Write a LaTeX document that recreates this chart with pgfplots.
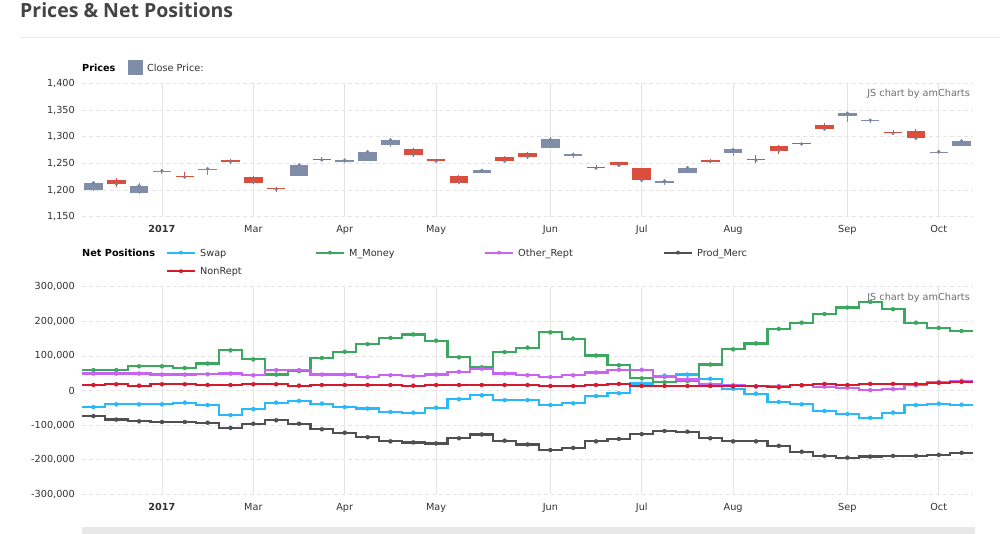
\documentclass[border=0pt]{standalone}
\usepackage{pgfplots}
\pgfplotsset{compat=1.18}
\usepackage{pgfplotstable}
\usepackage{fontspec}
\setmainfont{DejaVu Sans}
\newfontfamily\titlefont{Open Sans}
\definecolor{upc}{RGB}{127,141,169}
\definecolor{downc}{RGB}{219,77,60}
\definecolor{dotc}{RGB}{120,132,160}
\definecolor{swapc}{RGB}{40,185,250}
\definecolor{mmc}{RGB}{60,168,95}
\definecolor{othc}{RGB}{200,100,240}
\definecolor{prodc}{RGB}{80,80,80}
\definecolor{nonc}{RGB}{215,25,45}
\definecolor{gridc}{RGB}{228,228,228}
\definecolor{labc}{RGB}{50,50,50}
\definecolor{wmc}{RGB}{110,110,110}
\definecolor{titc}{RGB}{68,68,68}
\definecolor{sepc}{RGB}{235,235,235}
\definecolor{scrc}{RGB}{232,232,232}
\newcommand\sm{\fontsize{9.7bp}{11bp}\selectfont}

\pgfplotstableread{
x o c h l
0 1200 1214 1217 1199
2 1194 1208 1214 1192
3 1234 1236 1239 1230
5 1237 1240 1243 1228
9 1226 1247 1250 1226
11 1252 1256 1259 1251
12 1254 1272 1275 1254
13 1284 1294 1297 1280
17 1231 1237 1239 1231
20 1279 1295 1299 1279
21 1264 1267 1270 1260
25 1214 1217 1220 1210
26 1232 1242 1245 1232
28 1269 1276 1278 1263
33 1339 1344 1347 1328
34 1329 1331 1334 1325
37 1269 1272 1275 1268
38 1282 1292 1295 1282
}\upcandles

\pgfplotstableread{
x o c h l
1 1219 1211 1222 1206
4 1227 1224 1233 1222
6 1256 1253 1259 1248
7 1225 1214 1226 1213
8 1204 1201 1206 1197
10 1259 1256 1261 1254
14 1276 1266 1278 1261
15 1258 1254 1259 1252
16 1227 1214 1228 1213
18 1261 1254 1263 1252
19 1269 1262 1272 1258
22 1244 1241 1246 1239
23 1252 1246 1253 1245
24 1242 1218 1242 1218
27 1257 1253 1258 1251
29 1259 1256 1265 1250
30 1282 1274 1284 1268
31 1289 1286 1290 1285
32 1321 1314 1325 1313
35 1309 1306 1312 1305
36 1311 1297 1314 1293
}\downcandles

\pgfplotstableread{
x swap mm other prod nonrep
-0.5 -48000 59000 49000 -74000 16000
0 -48000 59000 49000 -74000 16000
1 -40000 59000 49000 -84000 18000
2 -40000 70000 49000 -89000 14000
3 -40000 70000 46000 -91000 18000
4 -35000 65000 46000 -91000 18000
5 -42000 78000 47000 -93000 16000
6 -71000 116000 49000 -108000 16000
7 -54000 90000 44000 -96000 18000
8 -35000 46000 59000 -86000 18000
9 -30000 56000 59000 -96000 14000
10 -38000 94000 46000 -112000 16000
11 -48000 112000 46000 -122000 16000
12 -52000 134000 39000 -135000 16000
13 -62000 152000 44000 -147000 16000
14 -64000 162000 41000 -150000 14000
15 -50000 144000 46000 -153000 16000
16 -25000 96000 54000 -138000 16000
17 -14000 67000 63000 -127000 16000
18 -28000 111000 49000 -145000 16000
19 -28000 124000 44000 -156000 16000
20 -42000 168000 39000 -172000 13000
21 -37000 150000 44000 -166000 13000
22 -16000 101000 52000 -147000 16000
23 -8000 73000 60000 -140000 19000
24 20000 35000 60000 -126000 13000
25 43000 24000 39000 -117000 13000
26 46000 27000 32000 -119000 13000
27 34000 75000 18000 -138000 13000
28 5000 119000 15000 -147000 12000
29 -9000 136000 12000 -147000 12000
30 -33000 178000 13000 -160000 9000
31 -40000 196000 15000 -177000 15000
32 -59000 221000 11000 -189000 19000
33 -68000 240000 8000 -194000 16000
34 -79000 256000 1000 -191000 19000
35 -64000 235000 4000 -189000 19000
36 -42000 196000 15000 -189000 19000
37 -38000 181000 25000 -186000 22000
38 -41000 172000 28000 -180000 25000
38.5 -41000 172000 28000 -180000 25000
}\net

\pgfplotsset{amstyle/.style={
  scale only axis, enlargelimits=false, xmin=-0.5, xmax=38.5, width=891bp,
  axis line style={draw=none}, major tick length=0pt,
  xmajorgrids, ymajorgrids,
  x grid style={color=gridc, line width=0.8bp},
  y grid style={color=gridc, dash pattern=on 4bp off 3bp, line width=0.8bp},
  xtick={3,7,11,15,20,24,28,33,37},
  xticklabels={\textbf{2017},Mar,Apr,May,Jun,Jul,Aug,Sep,Oct},
  tick label style={font=\sm, text=labc},
  xticklabel style={anchor=base, inner sep=0pt, yshift=-16bp},
  yticklabel style={anchor=east, inner sep=0pt, xshift=-7bp},
  scaled ticks=false,
}}

\begin{document}
\begin{tikzpicture}[x=1bp,y=1bp]
\useasboundingbox (0,0) rectangle (1000,-534);
\fill[white] (0,0) rectangle (1000,-534);
% title
\node[anchor=base west, inner sep=0pt, text=titc] at (20,-17.5)
  {\titlefont\bfseries\fontsize{19.5bp}{22bp}\selectfont Prices \& Net Positions};
\draw[color=sepc, line width=1bp] (20,-37.3) -- (1000,-37.3);

% Prices panel legend
\node[anchor=base west, inner sep=0pt, text=black] at (82,-71.5) {\sm\bfseries Prices};
\fill[upc] (128,-60) rectangle (143,-75);
\node[anchor=base west, inner sep=0pt, text=labc] at (147,-71.5) {\sm Close Price:};

\begin{axis}[amstyle, at={(82bp,-216.7bp)}, anchor=south west, height=133.4bp,
  ymin=1150, ymax=1400, ytick={1150,1200,...,1400},
  yticklabels={{1,150},{1,200},{1,250},{1,300},{1,350},{1,400}}]
% wicks
\addplot[draw=none, mark=none, error bars/.cd, y dir=minus, y explicit, error mark=none,
  error bar style={draw=upc, line width=1bp}]
  table[x=x, y=h, y error minus expr={\thisrow{h}-\thisrow{l}}] {\upcandles};
\addplot[draw=none, mark=none, error bars/.cd, y dir=minus, y explicit, error mark=none,
  error bar style={draw=downc, line width=1bp}]
  table[x=x, y=h, y error minus expr={\thisrow{h}-\thisrow{l}}] {\downcandles};
% bodies
\addplot[draw=none, mark=none, error bars/.cd, y dir=plus, y explicit, error mark=none,
  error bar style={draw=upc, line width=18.5bp}]
  table[x=x, y=o, y error plus expr={\thisrow{c}-\thisrow{o}}] {\upcandles};
\addplot[draw=none, mark=none, error bars/.cd, y dir=plus, y explicit, error mark=none,
  error bar style={draw=downc, line width=18.5bp}]
  table[x=x, y=c, y error plus expr={\thisrow{o}-\thisrow{c}}] {\downcandles};
% close dots
\addplot[only marks, mark=*, mark size=1.4bp, color=dotc] table[x=x, y=c] {\upcandles};
\addplot[only marks, mark=*, mark size=1.4bp, color=dotc] table[x=x, y=c] {\downcandles};
\end{axis}
\node[anchor=base east, inner sep=0pt, text=wmc] at (970,-97) {\sm JS chart by amCharts};

% Net positions legend
\node[anchor=base west, inner sep=0pt, text=black] at (82,-256.7) {\sm\bfseries Net Positions};
\foreach \xa/\col/\lab/\yy in {167/swapc/Swap/252.7, 316/mmc/M\_Money/252.7, 485/othc/Other\_Rept/252.7, 664/prodc/Prod\_Merc/252.7, 167/nonc/NonRept/271.2}{
  \draw[\col, line width=2.2bp] (\xa,-\yy) -- ++(28,0);
  \fill[\col] (\xa+14,-\yy) circle (2);
  \node[anchor=base west, inner sep=0pt, text=labc] at (\xa+33,-\yy-3.8) {\sm \lab};
}

\begin{axis}[amstyle, at={(82bp,-494.3bp)}, anchor=south west, height=207.6bp,
  ymin=-300000, ymax=300000, ytick={-300000,-200000,-100000,0,100000,200000,300000},
  yticklabels={{-300,000},{-200,000},{-100,000},{0},{100,000},{200,000},{300,000}}]
\addplot[const plot mark mid, swapc, line width=2.2bp] table[x=x, y=swap] {\net};
\addplot[only marks, mark=*, mark size=2bp, swapc, restrict x to domain=-0.1:38.1] table[x=x, y=swap] {\net};
\addplot[const plot mark mid, mmc, line width=2.2bp] table[x=x, y=mm] {\net};
\addplot[only marks, mark=*, mark size=2bp, mmc, restrict x to domain=-0.1:38.1] table[x=x, y=mm] {\net};
\addplot[const plot mark mid, othc, line width=2.2bp] table[x=x, y=other] {\net};
\addplot[only marks, mark=*, mark size=2bp, othc, restrict x to domain=-0.1:38.1] table[x=x, y=other] {\net};
\addplot[const plot mark mid, prodc, line width=2.2bp] table[x=x, y=prod] {\net};
\addplot[only marks, mark=*, mark size=2bp, prodc, restrict x to domain=-0.1:38.1] table[x=x, y=prod] {\net};
\addplot[const plot mark mid, nonc, line width=2.2bp] table[x=x, y=nonrep] {\net};
\addplot[only marks, mark=*, mark size=2bp, nonc, restrict x to domain=-0.1:38.1] table[x=x, y=nonrep] {\net};
\end{axis}
\node[anchor=base east, inner sep=0pt, text=wmc] at (970,-300.5) {\sm JS chart by amCharts};

% scrollbar
\fill[scrc] (82,-527) rectangle (975,-534);
\end{tikzpicture}
\end{document}
